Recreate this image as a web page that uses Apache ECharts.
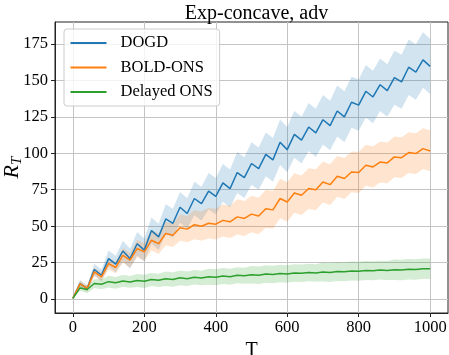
<!DOCTYPE html>
<html>
<head>
<meta charset="utf-8">
<script src="https://cdn.jsdelivr.net/npm/echarts@6/dist/echarts.min.js"></script>
<style>
  html, body { margin: 0; padding: 0; background: #fff; }
  #chart { width: 449px; height: 355px; }
</style>
</head>
<body>
<div id="chart"></div>
<script>
// T steps
const steps = [0, 20, 40, 60, 80, 100, 120, 140, 160, 180, 200, 220, 240, 260, 280, 300, 320, 340, 360, 380, 400,
  420, 440, 460, 480, 500, 520, 540, 560, 580, 600, 620, 640, 660, 680, 700, 720, 740, 760, 780, 800,
  820, 840, 860, 880, 900, 920, 940, 960, 980, 1000];

// mean regret
const dogd = [0.5, 10.7, 7.3, 20.3, 16.4, 27.8, 24, 33, 27.8, 38, 33.6, 47, 42.7, 55, 52, 63, 58.7, 69, 65.5, 74, 70.5,
  79.7, 75.8, 86.8, 83.3, 93, 89.5, 99.3, 95.5, 107.5, 102.5, 113, 109, 118, 114, 123, 119, 129, 125, 135, 133,
  142.5, 138.6, 147, 143, 151.8, 149, 159, 155.7, 164, 159.6];
const boldOns = [0.5, 10.5, 7.3, 18.7, 15.3, 24.4, 21.7, 30, 26.7, 34.7, 32.4, 40.4, 38, 45, 43.8, 49, 48, 51, 50, 52, 51.4,
  54, 53, 56.4, 55.3, 58.3, 57, 62, 61.2, 69, 66.6, 72.8, 71.2, 75.8, 75, 80.3, 78.5, 84.2, 82.7, 87.2, 86.8,
  91.8, 90.6, 94, 93.4, 97.5, 97, 100.5, 99.8, 103.2, 101.6];
const delayedOns = [0.5, 7.7, 6.6, 10.7, 10.2, 12, 11.2, 12.5, 11.8, 12.8, 12.2, 13.5, 12.9, 14, 13.5, 14.6, 14, 15, 14.5, 15.4, 15,
  15.8, 15.4, 16.4, 16, 16.8, 16.4, 17.2, 16.9, 17.6, 17.3, 18, 17.7, 18.3, 18, 18.6, 18.3, 18.9, 18.7, 19.3, 19.1,
  19.6, 19.4, 19.9, 19.7, 20.2, 20, 20.5, 20.3, 20.9, 20.8];

// spread of the shaded bands
const dogdStd = [0, 2.5, 2, 4, 4, 5.5, 5.5, 7, 7, 8, 8, 9, 9, 10, 10, 10.5, 10.5, 11.5, 11.5, 12.5, 12.5,
  13, 13, 14, 14, 14.5, 14.5, 15, 15, 15.5, 15.5, 16, 16, 16.5, 16.5, 17, 17, 17.5, 17.5, 17.5, 17.5,
  18, 18, 18, 18, 18.5, 18.5, 19, 19, 19, 19];
const boldStd = [0, 2, 2, 3, 3, 4, 4, 5, 5, 6, 6, 7, 7, 8, 8, 9, 9, 10, 10, 10.5, 10.5,
  11, 11, 12, 12, 12.5, 12.5, 13, 13, 13.5, 13.5, 13.5, 13.5, 14, 14, 14, 14, 14, 14, 14, 14,
  14, 14, 14, 14, 14, 14, 14, 14, 14, 14];
const delayedStd = [0, 2, 2.5, 3, 3.5, 4, 4, 4, 4, 4.5, 4.5, 4.5, 4.5, 5, 5, 5, 5, 5, 5, 5.5, 5.5,
  5.5, 5.5, 5.5, 5.5, 6, 6, 6, 6, 6, 6, 6, 6, 6, 6, 6.5, 6.5, 6.5, 6.5, 6.5, 6.5,
  6.5, 6.5, 6.5, 6.5, 7, 7, 7, 7, 7, 7];

const xTicks = [0, 200, 400, 600, 800, 1000];
const yTicks = [0, 25, 50, 75, 100, 125, 150, 175];

const names = ["DOGD", "BOLD-ONS", "Delayed ONS"];
const colors = ["#1f77b4", "#ff7f0e", "#2ca02c"];
const means = [dogd, boldOns, delayedOns];
const stds = [dogdStd, boldStd, delayedStd];

const FONT = "Liberation Serif";

function bandSeries(mean, std, color) {
  return {
    type: "custom",
    silent: true,
    data: [0],
    z: 1,
    renderItem: function(params, api) {
      const pts = [];
      for (let i = 0; i < steps.length; i++) {
        pts.push(api.coord([steps[i], mean[i] + std[i]]));
      }
      for (let i = steps.length - 1; i >= 0; i--) {
        pts.push(api.coord([steps[i], mean[i] - std[i]]));
      }
      return {
        type: "polygon",
        shape: { points: pts },
        style: { fill: color, opacity: 0.2 }
      };
    }
  };
}

const series = [];
for (let k = 0; k < 3; k++) {
  series.push(bandSeries(means[k], stds[k], colors[k]));
}
for (let k = 0; k < 3; k++) {
  series.push({
    name: names[k],
    type: "line",
    data: steps.map((t, i) => [t, means[k][i]]),
    showSymbol: false,
    z: 3,
    lineStyle: { color: colors[k], width: 1.5 },
    itemStyle: { color: colors[k] }
  });
}

const chart = echarts.init(document.getElementById("chart"));
chart.setOption({
  animation: false,
  title: {
    text: "Exp-concave, adv",
    left: 251.5,
    textAlign: "center",
    top: -1,
    textStyle: { fontFamily: FONT, fontSize: 20, fontWeight: "normal", color: "#000" }
  },
  legend: {
    data: names,
    orient: "vertical",
    left: 64,
    top: 29,
    icon: "rect",
    itemWidth: 36,
    itemHeight: 2,
    itemGap: 4.5,
    padding: [4, 7, 4, 6.5],
    borderColor: "#cccccc",
    borderWidth: 1,
    borderRadius: 3,
    backgroundColor: "rgba(255,255,255,0.8)",
    textStyle: { fontFamily: FONT, fontSize: 16.5, color: "#000", lineHeight: 20, padding: [0, 0, 0, 9] }
  },
  grid: {
    left: 55, right: 1, top: 22, bottom: 42,
    containLabel: false,
    outerBoundsMode: "none",
    show: true, borderColor: "#222", borderWidth: 1
  },
  xAxis: {
    type: "value",
    min: -50,
    max: 1050,
    name: "T",
    nameLocation: "middle",
    nameGap: 24,
    nameTextStyle: { fontFamily: FONT, fontSize: 20, color: "#000" },
    axisLine: { show: true, onZero: false, lineStyle: { color: "#222" } },
    axisTick: { show: true, inside: false, length: 4, customValues: xTicks, lineStyle: { color: "#222" } },
    axisLabel: {
      customValues: xTicks, margin: 6, fontFamily: FONT, fontSize: 16.5, color: "#000",
      formatter: function(v) { return String(v); }
    },
    splitLine: { show: true, lineStyle: { color: "#c4c4c4", width: 1 } }
  },
  yAxis: {
    type: "value",
    min: -9.5,
    max: 190,
    name: "{r|R}{s|T}",
    nameLocation: "middle",
    nameRotate: 90,
    nameGap: 30,
    nameMoveOverlap: false,
    nameTextStyle: {
      rich: {
        r: { fontFamily: FONT, fontStyle: "italic", fontSize: 22, color: "#000" },
        s: { fontFamily: FONT, fontStyle: "italic", fontSize: 15, color: "#000", padding: [10, 0, 0, 0] }
      }
    },
    axisLine: { show: true, onZero: false, lineStyle: { color: "#222" } },
    axisTick: { show: true, inside: false, length: 4, customValues: yTicks, lineStyle: { color: "#222" } },
    axisLabel: {
      customValues: yTicks, margin: 7, fontFamily: FONT, fontSize: 16.5, color: "#000",
      formatter: function(v) { return String(v); }
    },
    splitLine: { show: true, lineStyle: { color: "#c4c4c4", width: 1 } }
  },
  series: series
});
</script>
</body>
</html>
